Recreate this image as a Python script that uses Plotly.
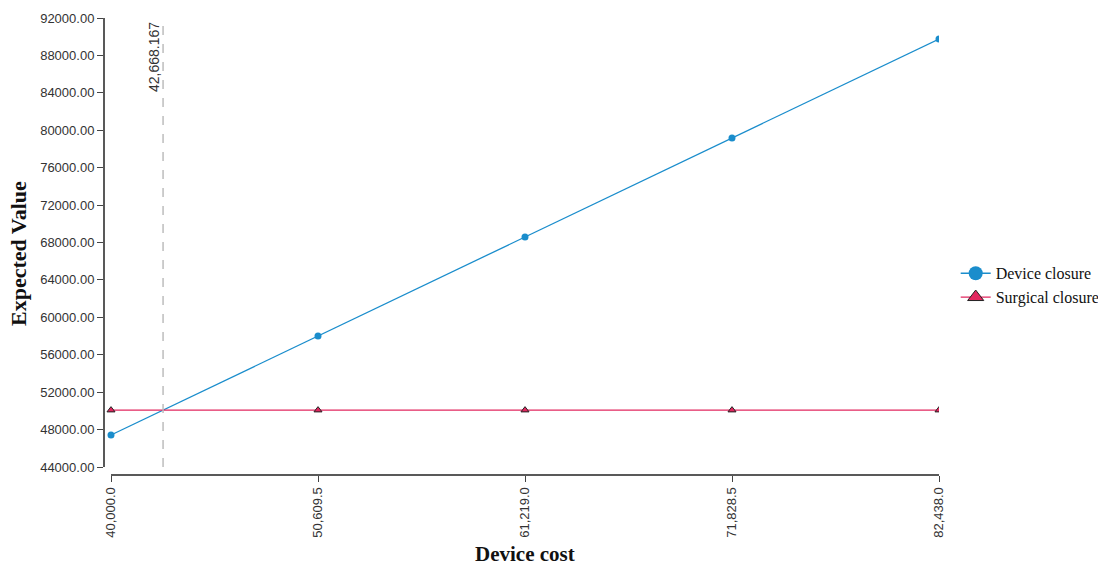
import plotly.graph_objects as go

device_cost = [40000.0, 50609.5, 61219.0, 71828.5, 82438.0]
tick_labels = ["40,000.0", "50,609.5", "61,219.0", "71,828.5", "82,438.0"]
device_closure = [47420, 58005, 68590, 79170, 89755]
surgical_closure = [50080, 50080, 50080, 50080, 50080]
threshold = 42668.167
threshold_label = "42,668.167"
y_ticks = list(range(44000, 92001, 4000))

W, H = 1098, 568
ml, mr, mt, mb = 104, 159, 18, 93
pw = W - ml - mr
ph = H - mt - mb
xoff, yoff = 7, 8
xmin, xmax = device_cost[0], device_cost[-1]
xpad = (xmax - xmin) / (pw - xoff) * xoff
ymin, ymax = y_ticks[0], y_ticks[-1]
ypad = (ymax - ymin) / (ph - yoff) * yoff

blue = "#1a8dcc"
red = "#e2275f"
serif = "Liberation Serif, Times New Roman, serif"
sans = "Liberation Sans, Arial, sans-serif"

fig = go.Figure()
fig.add_trace(go.Scatter(
    x=device_cost, y=device_closure, name="Device closure", mode="lines+markers",
    line=dict(color=blue, width=1.3), showlegend=False,
    marker=dict(symbol="circle", size=7, color=blue),
))
fig.add_trace(go.Scatter(
    x=device_cost, y=surgical_closure, name="Surgical closure", mode="lines+markers",
    line=dict(color=red, width=1.3), showlegend=False,
    marker=dict(symbol="triangle-up", size=7, color=red, line=dict(color="#222", width=1)),
))
# legend entries with larger symbols
fig.add_trace(go.Scatter(
    x=[None], y=[None], name="Device closure", mode="lines+markers",
    line=dict(color=blue, width=1.3),
    marker=dict(symbol="circle", size=14, color=blue),
))
fig.add_trace(go.Scatter(
    x=[None], y=[None], name="Surgical closure", mode="lines+markers",
    line=dict(color=red, width=1.3),
    marker=dict(symbol="triangle-up", size=14, color=red, line=dict(color="#222", width=1)),
))

# threshold dashed line
fig.add_shape(type="line", xref="x", yref="y", x0=threshold, x1=threshold,
              y0=ymin, y1=ymax, line=dict(color="#bdbdbd", width=1.5, dash="dash"))
fig.add_annotation(x=threshold, y=ymax, xref="x", yref="y", text=threshold_label,
                   textangle=-90, showarrow=False, xanchor="right", yanchor="top",
                   xshift=1, yshift=-2, font=dict(family=sans, size=14, color="#333"))

# y-axis title
fig.add_annotation(x=(18 - ml) / pw, y=(H - mb - 254) / ph, xref="paper", yref="paper",
                   text="<b>Expected Value</b>", textangle=-90, showarrow=False,
                   xanchor="center", yanchor="middle",
                   font=dict(family=serif, size=22, color="#111"))

# offset axis lines
fig.add_shape(type="line", xref="paper", yref="y", x0=0, x1=0, y0=ymin, y1=ymax,
              line=dict(color="#222", width=1.5))
fig.add_shape(type="line", xref="x", yref="paper", x0=xmin, x1=xmax, y0=0, y1=0,
              line=dict(color="#222", width=1.5))

fig.update_layout(
    width=W, height=H,
    margin=dict(l=ml, r=mr, t=mt, b=mb, pad=0, autoexpand=False),
    plot_bgcolor="white", paper_bgcolor="white",
    showlegend=True,
    legend=dict(x=1.02, xanchor="left", y=0.415, yanchor="middle",
                font=dict(family=serif, size=16, color="#111"),
                bgcolor="rgba(0,0,0,0)", itemwidth=30),
    xaxis=dict(
        range=[xmin - xpad, xmax], tickmode="array", tickvals=device_cost,
        ticktext=tick_labels, tickangle=-90, ticks="outside", ticklen=6,
        tickcolor="#444", showgrid=False, zeroline=False, showline=False,
        automargin=False,
        tickfont=dict(family=sans, size=13, color="#333"),
    ),
    yaxis=dict(
        range=[ymin - ypad, ymax], tickmode="array", tickvals=y_ticks,
        ticktext=[f"{v:.2f}" for v in y_ticks], ticks="outside", ticklen=6,
        tickcolor="#444", showgrid=False, zeroline=False, showline=False,
        automargin=False,
        tickfont=dict(family=sans, size=13, color="#333"),
    ),
)

# x-axis title
fig.add_annotation(x=(525 - ml) / pw, y=-(554 - (H - mb)) / ph, xref="paper", yref="paper",
                   text="<b>Device cost</b>", showarrow=False,
                   xanchor="center", yanchor="middle",
                   font=dict(family=serif, size=21, color="#111"))

fig.write_html("out.html", config={"displayModeBar": False},
               post_script="document.body.style.margin='0';document.body.style.padding='0';")
